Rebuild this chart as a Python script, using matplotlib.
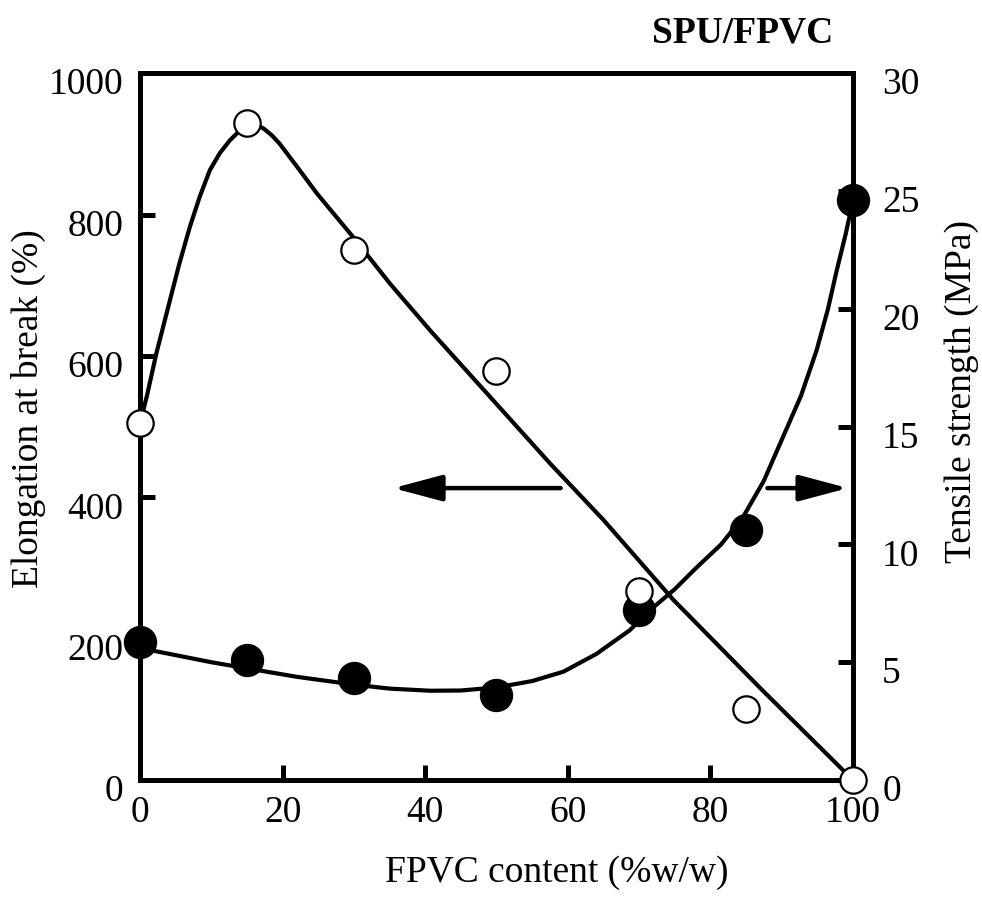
import matplotlib
matplotlib.use("Agg")
import matplotlib.pyplot as plt
import matplotlib.transforms as mtransforms

plt.rcParams['font.family'] = ['Liberation Serif', 'DejaVu Serif']

# measured points, FPVC content (%w/w)
content = [0, 15, 30, 50, 70, 85, 100]
elongation = [505, 930, 750, 578, 268, 101, 0]          # %, open circles
tensile = [5.87, 5.09, 4.31, 3.6, 7.2, 10.6, 24.6]       # MPa, filled circles

# smooth trend lines
elong_curve_x = [0, 1.0, 2.3, 4.2, 5.5, 7.0, 8.4, 9.8, 11.2, 12.6, 13.8, 15.0, 16.2,
                 17.3, 18.5, 19.6, 22, 24.8, 29.9, 35, 40.7, 50, 57.5, 65, 74.8, 87, 100]
elong_curve_y = [505, 545, 604, 679, 730, 783, 826, 863, 887, 905, 917, 926, 927,
                 922, 912, 900, 868, 830, 768, 703, 636, 532, 448, 368, 255, 130, 0]
tens_curve_x = [0, 5, 10, 15, 22, 30, 35, 40.7, 45, 50, 55, 59.4, 64, 68.7, 71.5,
                75, 78, 81.5, 84.6, 87.5, 90.2, 92.7, 94.9, 96.5, 97.7, 99, 100]
tens_curve_y = [5.6, 5.3, 5.0, 4.74, 4.38, 4.05, 3.88, 3.79, 3.8, 3.93, 4.2, 4.6, 5.35, 6.36, 7.2,
                8.1, 9.0, 10.0, 11.17, 12.7, 14.57, 16.3, 18.24, 20.0, 21.6, 23.2, 24.6]

x_ticks = [0, 20, 40, 60, 80, 100]
left_ticks = [0, 200, 400, 600, 800, 1000]
right_ticks = [0, 5, 10, 15, 20, 25, 30]

fs = 27
lw_axis = 3.6

fig = plt.figure(figsize=(9.82, 8.97), dpi=100)
ax = fig.add_axes([0.1426, 0.1304, 0.726, 0.788])
ax2 = ax.twinx()

# tensile on the lower layer so open circles sit on top
ax.set_zorder(ax2.get_zorder() + 1)
ax.patch.set_visible(False)

ax2.plot(tens_curve_x, tens_curve_y, color='k', lw=3, zorder=2, clip_on=False)
ax2.plot(content, tensile, 'o', ms=23, color='k', zorder=3, clip_on=False)

ax.plot(elong_curve_x, elong_curve_y, color='k', lw=3, zorder=2, clip_on=False)
ax.plot(content, elongation, 'o', ms=19, mfc='white', mec='k', mew=1.6,
        zorder=4, clip_on=False)

# arrows pointing to the axes
arrow = dict(arrowstyle='-|>,head_length=0.75,head_width=0.2', lw=3.2,
             color='k', mutation_scale=40, shrinkA=0, shrinkB=0)
ax.annotate('', xy=(35.5, 413), xytext=(59, 413), arrowprops=arrow)
ax.annotate('', xy=(99.3, 413), xytext=(88, 413), arrowprops=arrow)

ax.set_xlim(0, 100)
ax.set_ylim(0, 1000)
ax2.set_ylim(0, 30)
ax.set_xticks(x_ticks)
ax.set_yticks(left_ticks)
ax2.set_yticks(right_ticks)

ax.tick_params(axis='both', direction='in', length=11, width=lw_axis,
               labelsize=fs, top=False, right=False)
ax.tick_params(axis='x', pad=11)
ax.tick_params(axis='y', pad=12)
ax2.tick_params(axis='y', direction='in', length=11, width=lw_axis,
                labelsize=fs, pad=21)

for a in (ax, ax2):
    for s in a.spines.values():
        s.set_linewidth(lw_axis)

# tick labels sit a bit low in the original
shift = mtransforms.ScaledTranslation(0, -0.08, fig.dpi_scale_trans)
for lab in ax.get_yticklabels() + ax2.get_yticklabels():
    lab.set_transform(lab.get_transform() + shift)

ax.set_xlabel('FPVC content (%w/w)', fontsize=fs, va='center')
ax.set_ylabel('Elongation at break (%)', fontsize=fs, va='center')
ax2.set_ylabel('Tensile strength (MPa)', fontsize=fs, va='center')
ax.xaxis.set_label_coords(0.585, -0.131)
ax.yaxis.set_label_coords(-0.157, 0.525)
ax2.yaxis.set_label_coords(1.153, 0.55)

fig.text(0.756, 0.963, 'SPU/FPVC', fontsize=27, fontweight='bold',
         ha='center', va='center')

fig.savefig('out.png', dpi=100)
